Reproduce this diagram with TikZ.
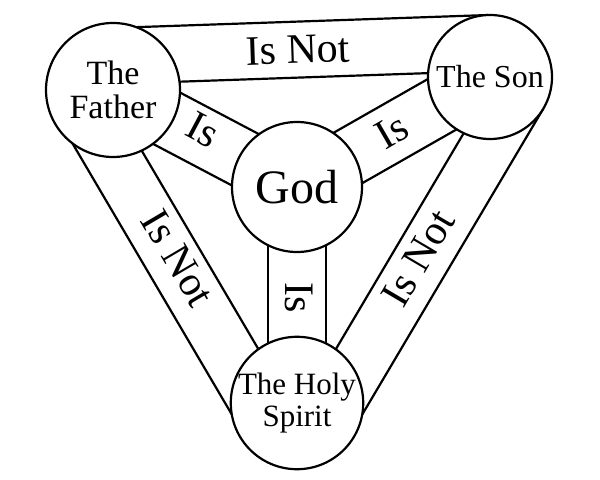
\documentclass[tikz,border=0pt]{standalone}
\usepackage{fontspec}
\setmainfont{Liberation Serif}
\usetikzlibrary{calc}
\begin{document}
\begin{tikzpicture}[x=0.5pt,y=-0.5pt,line width=1.1pt,
  circ/.style={circle,draw,fill=white,inner sep=0pt,align=center,font=\fontsize{17}{17}\selectfont},
  lab/.style={font=\fontsize{21}{21}\selectfont,inner sep=0pt}]
\useasboundingbox (0,0) rectangle (600,480);
\coordinate (F) at (113,90);
\coordinate (S) at (490,77);
\coordinate (G) at (297,187);
\coordinate (H) at (297,403);
\foreach \a/\b in {F/G,S/G,G/H}{
  \draw ($(\a)!14.5pt!90:(\b)$) -- ($(\b)!14.5pt!-90:(\a)$);
  \draw ($(\a)!14.5pt!-90:(\b)$) -- ($(\b)!14.5pt!90:(\a)$);
}
\foreach \a/\b in {F/S,S/H,H/F}{
  \draw ($(\a)!31pt!90:(\b)$) -- ($(\b)!31pt!-90:(\a)$);
  \draw ($(\a)!3pt!90:(\b)$) -- ($(\b)!3pt!-90:(\a)$);
}
\node[circ,minimum size=67pt] (father) at (F) {The\\Father};
\node[circ,minimum size=62pt,font=\fontsize{16}{16}\selectfont] (son) at (S) {The Son};
\node[circ,minimum size=65pt,font=\fontsize{24}{24}\selectfont] (god) at (G) {God};
\node[circ,minimum size=65pt,font=\fontsize{15.5}{16}\selectfont] (spirit) at (H) {The Holy\\Spirit};
\node[lab,rotate=2] (l1) at (298,50) {Is Not};
\node[lab,rotate=-28] (l2) at (203,130) {Is};
\node[lab,rotate=30] (l3) at (392,131) {Is};
\node[lab,rotate=-59.5] (l4) at (178,258) {Is Not};
\node[lab,rotate=59.5] (l5) at (418,258) {Is Not};
\node[lab,rotate=-90] (l6) at (299,298) {Is};
\end{tikzpicture}
\end{document}
